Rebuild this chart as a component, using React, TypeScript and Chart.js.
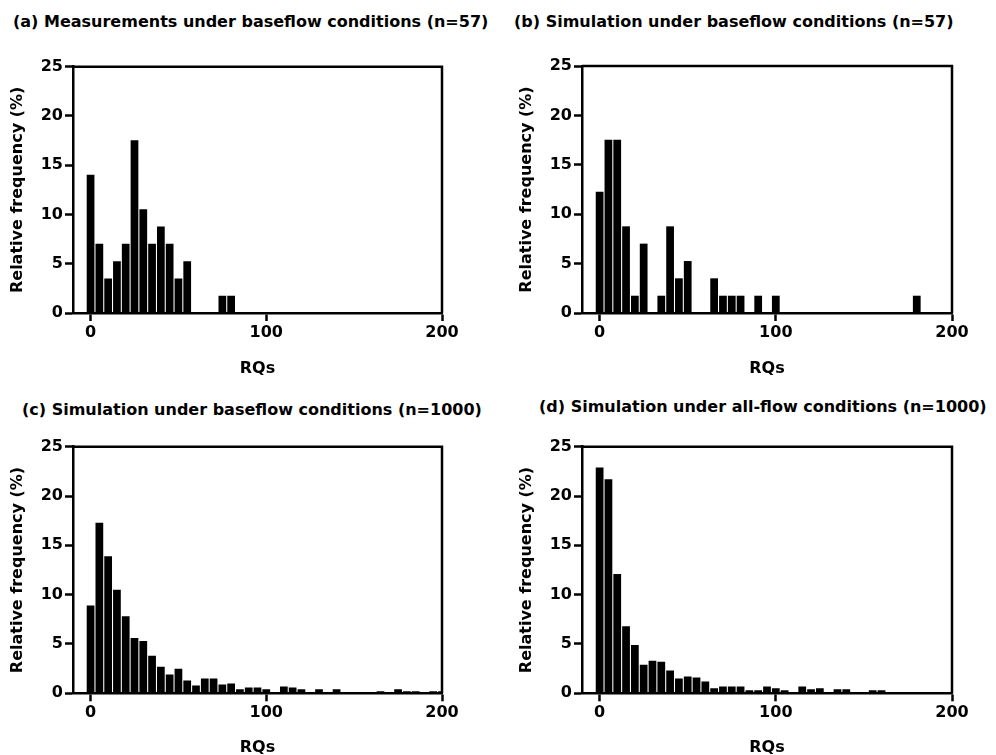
import React, { useEffect, useRef } from "react";
import { Chart, registerables } from "chart.js";

Chart.register(...registerables);

// Bin centres (RQ), width 5
const bins = [
  0, 5, 10, 15, 20, 25, 30, 35, 40, 45, 50, 55, 60, 65, 70, 75, 80, 85, 90, 95, 100,
  105, 110, 115, 120, 125, 130, 135, 140, 145, 150, 155, 160, 165, 170, 175, 180, 185, 190, 195, 200,
];

const xTickValues = [0, 100, 200];

// (a) Measurements under baseflow conditions (n=57)
const freqA = [
  14.04, 7.02, 3.51, 5.26, 7.02, 17.54, 10.53, 7.02, 8.77, 7.02, 3.51, 5.26, 0, 0, 0, 1.75, 1.75, 0, 0, 0, 0,
  0, 0, 0, 0, 0, 0, 0, 0, 0, 0, 0, 0, 0, 0, 0, 0, 0, 0, 0, 0,
];

// (b) Simulation under baseflow conditions (n=57)
const freqB = [
  12.28, 17.54, 17.54, 8.77, 1.75, 7.02, 0, 1.75, 8.77, 3.51, 5.26, 0, 0, 3.51, 1.75, 1.75, 1.75, 0, 1.75, 0, 1.75,
  0, 0, 0, 0, 0, 0, 0, 0, 0, 0, 0, 0, 0, 0, 0, 1.75, 0, 0, 0, 0,
];

// (c) Simulation under baseflow conditions (n=1000)
const freqC = [
  8.9, 17.3, 13.9, 10.5, 7.8, 5.6, 5.3, 3.8, 2.7, 1.9, 2.5, 1.3, 0.8, 1.5, 1.5, 0.9, 1.0, 0.4, 0.6, 0.6, 0.4,
  0.1, 0.7, 0.6, 0.4, 0.1, 0.4, 0.1, 0.4, 0.1, 0.1, 0.1, 0.1, 0.2, 0.1, 0.4, 0.2, 0.2, 0.1, 0.2, 0.2,
];

// (d) Simulation under all-flow conditions (n=1000)
const freqD = [
  22.9, 21.7, 12.1, 6.8, 4.9, 2.9, 3.3, 3.2, 2.3, 1.5, 1.7, 1.6, 1.2, 0.5, 0.7, 0.7, 0.7, 0.3, 0.3, 0.7, 0.5,
  0.3, 0, 0.7, 0.4, 0.5, 0.1, 0.4, 0.4, 0, 0, 0.3, 0.3, 0.1, 0.1, 0.1, 0, 0, 0, 0.1, 0.1,
];

const titles = [
  "(a) Measurements under baseflow conditions (n=57)",
  "(b) Simulation under baseflow conditions (n=57)",
  "(c) Simulation under baseflow conditions (n=1000)",
  "(d) Simulation under all-flow conditions (n=1000)",
];

const FONT = '"DejaVu Sans", Verdana, sans-serif';
const LINE = 2.5;

const framePlugin = {
  id: "frame",
  afterDatasetsDraw(chart: any) {
    const { ctx, chartArea } = chart;
    ctx.save();
    ctx.strokeStyle = "#000";
    ctx.lineWidth = LINE;
    ctx.beginPath();
    ctx.moveTo(chartArea.left, chartArea.top);
    ctx.lineTo(chartArea.right, chartArea.top);
    ctx.lineTo(chartArea.right, chartArea.bottom);
    ctx.stroke();
    ctx.restore();
  },
};

type PanelProps = {
  values: number[];
  left: number;
  top: number;
  width: number;
  height: number;
  padTop: number;
  padRight: number;
  xHeight: number;
  xTitlePad: number;
};

function Panel(p: PanelProps) {
  const ref = useRef<HTMLCanvasElement | null>(null);
  useEffect(() => {
    if (!ref.current) return;
    const font = { family: FONT, size: 16, weight: "bold" as const, lineHeight: 1.2 };
    const chart = new Chart(ref.current, {
      type: "bar",
      data: {
        datasets: [
          {
            data: bins.map((b, i) => ({ x: b, y: p.values[i] })),
            backgroundColor: "#000",
            borderWidth: 0,
            barPercentage: 0.88,
            categoryPercentage: 1,
          } as any,
        ],
      },
      options: {
        animation: false,
        responsive: false,
        maintainAspectRatio: false,
        layout: { padding: { top: p.padTop, right: p.padRight, bottom: 0, left: 0 } },
        plugins: { legend: { display: false }, tooltip: { enabled: false }, title: { display: false } },
        scales: {
          x: {
            type: "linear",
            min: -10,
            max: 200,
            offset: false,
            afterBuildTicks: (s: any) => {
              s.ticks = xTickValues.map((v) => ({ value: v }));
            },
            afterFit: (s: any) => {
              s.height = p.xHeight;
            },
            grid: {
              offset: false,
              drawOnChartArea: false,
              drawTicks: true,
              tickLength: 8,
              tickWidth: LINE,
              tickColor: "#000",
              color: "#000",
            },
            border: { display: true, color: "#000", width: LINE },
            ticks: { font, color: "#000", padding: 2, maxRotation: 0, autoSkip: false },
            title: {
              display: true,
              text: "RQs",
              font,
              color: "#000",
              padding: { top: 0, bottom: p.xTitlePad },
            },
          },
          y: {
            type: "linear",
            min: 0,
            max: 25,
            afterFit: (s: any) => {
              s.width = 73;
            },
            grid: {
              drawOnChartArea: false,
              drawTicks: true,
              tickLength: 8,
              tickWidth: LINE,
              tickColor: "#000",
              color: "#000",
            },
            border: { display: true, color: "#000", width: LINE },
            ticks: { stepSize: 5, font, color: "#000", padding: 2 },
            title: {
              display: true,
              text: "Relative frequency (%)",
              font,
              color: "#000",
              padding: { top: 8, bottom: 0 },
            },
          },
        },
      } as any,
      plugins: [framePlugin],
    });
    return () => chart.destroy();
  }, []);
  return (
    <canvas
      ref={ref}
      width={p.width}
      height={p.height}
      style={{ position: "absolute", left: p.left, top: p.top, width: p.width, height: p.height }}
    />
  );
}

const titleStyle = (left: number, top: number): React.CSSProperties => ({
  position: "absolute",
  left,
  top,
  fontFamily: FONT,
  fontWeight: "bold",
  fontSize: 16,
  lineHeight: "20px",
  whiteSpace: "nowrap",
  color: "#000",
});

export default function App() {
  return (
    <div
      style={{
        position: "fixed",
        left: 0,
        top: 0,
        width: 996,
        height: 755,
        overflow: "hidden",
        background: "#fff",
      }}
    >
      <div style={titleStyle(13, 12)}>{titles[0]}</div>
      <div style={titleStyle(514, 12)}>{titles[1]}</div>
      <div style={titleStyle(22, 400)}>{titles[2]}</div>
      <div style={titleStyle(539, 397)}>{titles[3]}</div>

      <Panel values={freqA} left={0} top={40} width={470} height={340} padTop={26.7} padRight={28} xHeight={67} xTitlePad={2} />
      <Panel values={freqB} left={508.7} top={40} width={470} height={340} padTop={26} padRight={27} xHeight={67} xTitlePad={2} />
      <Panel values={freqC} left={0} top={400} width={470} height={360} padTop={46.7} padRight={28} xHeight={66.7} xTitlePad={2.4} />
      <Panel values={freqD} left={508.7} top={400} width={470} height={360} padTop={46.7} padRight={27} xHeight={66.7} xTitlePad={2.4} />
    </div>
  );
}
